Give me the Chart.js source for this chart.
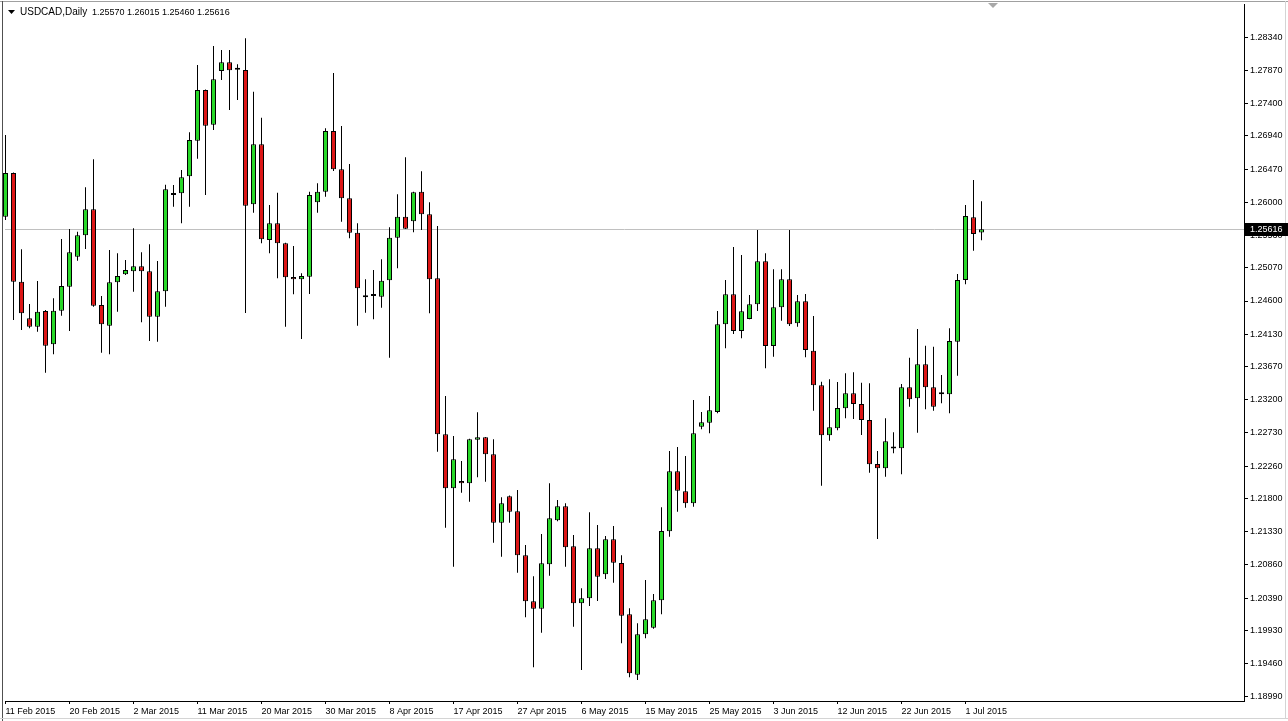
<!DOCTYPE html>
<html>
<head>
<meta charset="utf-8">
<script src="https://cdn.jsdelivr.net/npm/chart.js@4"></script>
<style>
  html, body { margin: 0; padding: 0; background: #fff; }
  #wrap { width: 1288px; height: 721px; }
</style>
</head>
<body>
<div id="wrap"><canvas id="usdcadChart" width="1288" height="721"></canvas></div>
<script>
// USDCAD daily candles, 11 Feb 2015 .. 3 Jul 2015 (broker feed incl. Sunday bars)
const opens = [
  1.25794, 1.26413, 1.24873, 1.24355, 1.24236, 1.24458, 1.23987, 1.24462, 1.24803, 1.25228,
  1.25531, 1.25899, 1.24543, 1.24250, 1.24865, 1.24978, 1.25021, 1.25092, 1.25021, 1.24378,
  1.24737, 1.26102, 1.26126, 1.26367, 1.26871, 1.27589, 1.27098, 1.27858, 1.27982, 1.27880,
  1.27873, 1.25970, 1.26820, 1.25464, 1.25701, 1.25417, 1.24940, 1.24907, 1.24944, 1.25998,
  1.26148, 1.27008, 1.26466, 1.26055, 1.25568, 1.24652, 1.24672, 1.24661, 1.24893, 1.25497,
  1.25794, 1.25729, 1.26148, 1.25828, 1.24922, 1.22712, 1.21947, 1.22050, 1.22017, 1.22635,
  1.22669, 1.22428, 1.21459, 1.21833, 1.21621, 1.20997, 1.20346, 1.20241, 1.20870, 1.21493,
  1.21691, 1.21125, 1.20317, 1.20388, 1.21097, 1.20728, 1.21224, 1.20888, 1.20162, 1.19306,
  1.19878, 1.19972, 1.20360, 1.21337, 1.22187, 1.21904, 1.21734, 1.22819, 1.22876, 1.23028,
  1.24270, 1.24695, 1.24175, 1.24345, 1.24553, 1.25162, 1.23963, 1.24511, 1.24907, 1.24284,
  1.24596, 1.23896, 1.23406, 1.22697, 1.22797, 1.23080, 1.23292, 1.23141, 1.22914, 1.22291,
  1.22230, 1.22510, 1.22513, 1.23377, 1.23222, 1.23703, 1.23377, 1.23280, 1.23278, 1.24023,
  1.24898, 1.25786, 1.25570
];
const highs = [
  1.26952, 1.26420, 1.25332, 1.24558, 1.24883, 1.24472, 1.24638, 1.25478, 1.25620, 1.25582,
  1.26211, 1.26607, 1.24671, 1.25323, 1.25276, 1.25181, 1.25630, 1.25290, 1.25403, 1.25167,
  1.26248, 1.26243, 1.26456, 1.26990, 1.27943, 1.27595, 1.28213, 1.28156, 1.28156, 1.27953,
  1.28322, 1.27565, 1.27197, 1.25960, 1.26134, 1.25425, 1.25379, 1.24992, 1.26148, 1.26267,
  1.27047, 1.27830, 1.27079, 1.26541, 1.25701, 1.24907, 1.25039, 1.25191, 1.25644, 1.26112,
  1.26636, 1.26148, 1.26437, 1.25998, 1.25663, 1.23254, 1.22688, 1.22333, 1.22648, 1.23023,
  1.22675, 1.22641, 1.21819, 1.21843, 1.21922, 1.21143, 1.20700, 1.21299, 1.22017, 1.21781,
  1.21733, 1.21285, 1.20530, 1.21607, 1.21427, 1.21271, 1.21413, 1.20997, 1.20247, 1.20034,
  1.20648, 1.20449, 1.21677, 1.22475, 1.22532, 1.22404, 1.23198, 1.23028, 1.23254, 1.24458,
  1.24898, 1.25365, 1.25252, 1.24685, 1.25606, 1.25276, 1.25049, 1.25049, 1.25606, 1.24685,
  1.24699, 1.24388, 1.23457, 1.23491, 1.23453, 1.23576, 1.23590, 1.23443, 1.23434, 1.22475,
  1.22938, 1.22740, 1.23424, 1.23797, 1.24203, 1.23967, 1.23953, 1.23552, 1.24213, 1.24983,
  1.25960, 1.26314, 1.26015
];
const lows = [
  1.25747, 1.24331, 1.24189, 1.24213, 1.24165, 1.23584, 1.23845, 1.24392, 1.24175, 1.25171,
  1.25337, 1.24519, 1.23868, 1.23845, 1.24448, 1.24968, 1.24732, 1.24298, 1.24033, 1.24023,
  1.24519, 1.25936, 1.25701, 1.25936, 1.26616, 1.26102, 1.27023, 1.27731, 1.27306, 1.27448,
  1.24430, 1.25851, 1.25417, 1.25276, 1.24922, 1.24236, 1.24695, 1.24062, 1.24699, 1.25851,
  1.26078, 1.26442, 1.25723, 1.25488, 1.24250, 1.24434, 1.24341, 1.24505, 1.23797, 1.25063,
  1.25620, 1.25573, 1.25606, 1.24426, 1.22465, 1.21388, 1.20836, 1.21884, 1.21757, 1.22102,
  1.22040, 1.21176, 1.20978, 1.21459, 1.20751, 1.20119, 1.19411, 1.19901, 1.20708, 1.21480,
  1.20836, 1.19986, 1.19373, 1.20279, 1.20350, 1.20662, 1.20609, 1.19751, 1.19269, 1.19231,
  1.19822, 1.19958, 1.20162, 1.21261, 1.21615, 1.21672, 1.21686, 1.22782, 1.22726, 1.23009,
  1.23930, 1.24133, 1.24072, 1.24340, 1.24458, 1.23647, 1.23811, 1.24321, 1.24246, 1.24236,
  1.23802, 1.23046, 1.21983, 1.22621, 1.22768, 1.22938, 1.22928, 1.22702, 1.22168, 1.21228,
  1.22111, 1.22442, 1.22145, 1.23103, 1.22734, 1.23066, 1.23046, 1.23151, 1.23009, 1.23542,
  1.24837, 1.25313, 1.25460
];
const closes = [
  1.26413, 1.24873, 1.24426, 1.24236, 1.24448, 1.23967, 1.24462, 1.24812, 1.25290, 1.25531,
  1.25899, 1.24533, 1.24270, 1.24865, 1.24954, 1.25039, 1.25092, 1.25021, 1.24378, 1.24737,
  1.26182, 1.26130, 1.26352, 1.26881, 1.27589, 1.27083, 1.27741, 1.27982, 1.27868, 1.27875,
  1.25950, 1.26820, 1.25474, 1.25701, 1.25417, 1.24936, 1.24907, 1.24954, 1.26102, 1.26148,
  1.27008, 1.26466, 1.26055, 1.25568, 1.24780, 1.24681, 1.24678, 1.24888, 1.25497, 1.25794,
  1.25624, 1.26140, 1.25828, 1.24907, 1.22712, 1.21947, 1.22357, 1.22017, 1.22641, 1.22669,
  1.22428, 1.21459, 1.21734, 1.21615, 1.20997, 1.20346, 1.20241, 1.20884, 1.21522, 1.21691,
  1.21111, 1.20317, 1.20388, 1.21097, 1.20694, 1.21224, 1.20893, 1.20142, 1.19326, 1.19878,
  1.20091, 1.20360, 1.21342, 1.22187, 1.21912, 1.21734, 1.22726, 1.22882, 1.23052, 1.24270,
  1.24695, 1.24175, 1.24454, 1.24553, 1.25162, 1.23963, 1.24511, 1.24907, 1.24270, 1.24596,
  1.23906, 1.23406, 1.22697, 1.22811, 1.23084, 1.23292, 1.23141, 1.22914, 1.22287, 1.22230,
  1.22612, 1.22515, 1.23377, 1.23207, 1.23703, 1.23377, 1.23103, 1.23285, 1.24033, 1.24898,
  1.25804, 1.25549, 1.25616
];

// one date label every 8 bars
const dateTicks = [
  '11 Feb 2015', '20 Feb 2015', '2 Mar 2015', '11 Mar 2015', '20 Mar 2015', '30 Mar 2015',
  '8 Apr 2015', '17 Apr 2015', '27 Apr 2015', '6 May 2015', '15 May 2015', '25 May 2015',
  '3 Jun 2015', '12 Jun 2015', '22 Jun 2015', '1 Jul 2015'
];
const priceTicks = [
  1.28340, 1.27870, 1.27400, 1.26940, 1.26470, 1.26000, 1.25530, 1.25070, 1.24600, 1.24130,
  1.23670, 1.23200, 1.22730, 1.22260, 1.21800, 1.21330, 1.20860, 1.20390, 1.19930, 1.19460,
  1.18990
];

const symbolTitle = 'USDCAD,Daily';
const bullColor = '#28d828';
const bearColor = '#dc1616';
const labelFont = { family: '"Liberation Sans", Arial, sans-serif', size: 9 };

const bodyData = opens.map((o, i) => ({ x: i, y: [o, closes[i]] }));
const wickData = highs.map((h, i) => ({ x: i, y: [lows[i], h] }));
const bodyColors = opens.map((o, i) => (closes[i] >= o ? bullColor : bearColor));

const last = closes.length - 1;
const lastClose = closes[last];

const mtFrame = {
  id: 'mtFrame',
  beforeDatasetsDraw(chart) {
    const { ctx, chartArea, scales } = chart;
    const y = Math.round(scales.y.getPixelForValue(lastClose)) + 0.5;
    ctx.save();
    ctx.strokeStyle = '#c0c0c0';
    ctx.lineWidth = 1;
    ctx.beginPath();
    ctx.moveTo(chartArea.left, y);
    ctx.lineTo(chartArea.right, y);
    ctx.stroke();
    ctx.restore();
  },
  afterDraw(chart) {
    const { ctx, chartArea, scales } = chart;
    ctx.save();
    ctx.lineWidth = 1;

    // window frame
    ctx.strokeStyle = '#a0a0a0';
    ctx.beginPath();
    ctx.moveTo(0, 1.5); ctx.lineTo(1288, 1.5);
    ctx.stroke();
    ctx.strokeStyle = '#505050';
    ctx.beginPath();
    ctx.moveTo(2.5, 1); ctx.lineTo(2.5, 721);
    ctx.stroke();
    ctx.strokeStyle = '#d4d4d4';
    ctx.beginPath();
    ctx.moveTo(1285.5, 1); ctx.lineTo(1285.5, 719);
    ctx.moveTo(0, 718.5); ctx.lineTo(1288, 718.5);
    ctx.stroke();

    // chart shift marker
    ctx.fillStyle = '#a8a8a8';
    ctx.beginPath();
    ctx.moveTo(988, 3); ctx.lineTo(998, 3); ctx.lineTo(993, 8);
    ctx.closePath();
    ctx.fill();

    // bid price box on the axis
    const py = Math.round(scales.y.getPixelForValue(lastClose));
    ctx.fillStyle = '#000';
    ctx.fillRect(chartArea.right + 1, py - 6, 43, 13);
    ctx.fillStyle = '#fff';
    ctx.font = '9px "Liberation Sans", Arial, sans-serif';
    ctx.textBaseline = 'middle';
    ctx.textAlign = 'left';
    ctx.fillText(lastClose.toFixed(5), chartArea.right + 6, py + 0.5);

    // title line
    ctx.fillStyle = '#000';
    ctx.beginPath();
    ctx.moveTo(8, 10); ctx.lineTo(15, 10); ctx.lineTo(11.5, 14);
    ctx.closePath();
    ctx.fill();
    const ohlc = [opens[last], highs[last], lows[last], closes[last]].map(v => v.toFixed(5)).join(' ');
    ctx.font = '10px "Liberation Sans", Arial, sans-serif';
    ctx.fillText(symbolTitle, 20, 12.5);
    ctx.font = '9px "Liberation Sans", Arial, sans-serif';
    ctx.fillText(ohlc, 92, 12.5);
    ctx.restore();
  }
};

const ctx = document.getElementById('usdcadChart').getContext('2d');
new Chart(ctx, {
  type: 'bar',
  data: {
    datasets: [
      {
        data: bodyData,
        backgroundColor: bodyColors,
        borderColor: '#000',
        borderWidth: 1,
        borderSkipped: false,
        barThickness: 5,
        minBarLength: 2,
        inflateAmount: 0,
        grouped: false,
        clip: false
      },
      {
        data: wickData,
        backgroundColor: '#000',
        borderWidth: 0,
        barThickness: 1,
        inflateAmount: 0,
        grouped: false,
        clip: false
      }
    ]
  },
  options: {
    responsive: false,
    animation: false,
    devicePixelRatio: 1,
    layout: { padding: { top: 4, left: 5, right: 0, bottom: 0 } },
    plugins: { legend: { display: false }, tooltip: { enabled: false } },
    scales: {
      x: {
        type: 'linear',
        offset: false,
        min: -0.0625,
        max: -0.0625 + 1239 / 8,
        afterBuildTicks: s => { s.ticks = dateTicks.map((_, k) => ({ value: k * 8 })); },
        afterFit: s => { s.height = 20; s.paddingLeft = 0; s.paddingRight = 0; },
        grid: { drawOnChartArea: false, offset: false, tickLength: 3, color: '#000' },
        border: { color: '#000' },
        ticks: {
          align: 'start',
          maxRotation: 0,
          autoSkip: false,
          padding: 2,
          color: '#000',
          font: labelFont,
          callback: v => dateTicks[Math.round(v / 8)]
        }
      },
      y: {
        position: 'right',
        min: 1.18933,
        max: 1.28808,
        afterBuildTicks: s => { s.ticks = priceTicks.map(v => ({ value: v })); },
        afterFit: s => { s.width = 44; s.paddingTop = 0; s.paddingBottom = 0; },
        grid: { drawOnChartArea: false, tickLength: 4, color: '#000' },
        border: { color: '#000' },
        ticks: {
          padding: 2,
          color: '#000',
          font: labelFont,
          callback: v => v.toFixed(5)
        }
      }
    }
  },
  plugins: [mtFrame]
});
</script>
</body>
</html>
